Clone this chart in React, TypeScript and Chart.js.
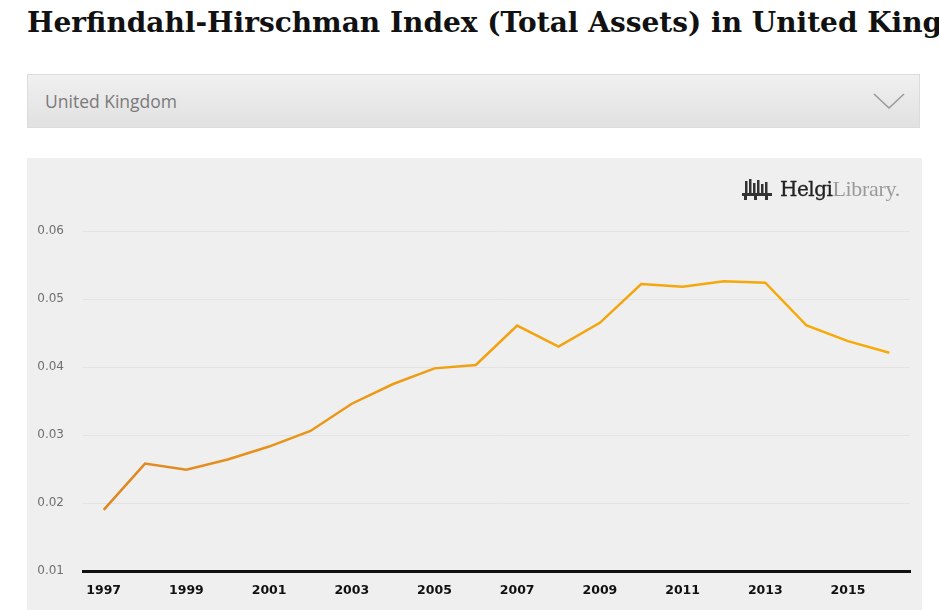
import React, { useEffect, useRef } from "react";
import { Chart, registerables } from "chart.js";

Chart.register(...registerables);

const years: string[] = [
  "1997", "1998", "1999", "2000", "2001", "2002", "2003", "2004", "2005", "2006",
  "2007", "2008", "2009", "2010", "2011", "2012", "2013", "2014", "2015", "2016",
];

const hhiValues: number[] = [
  0.0190, 0.0258, 0.0249, 0.0264, 0.0283, 0.0306, 0.0346, 0.0375, 0.0398, 0.0403,
  0.0461, 0.0430, 0.0465, 0.0522, 0.0518, 0.0526, 0.0524, 0.0461, 0.0438, 0.0421,
];

const yTicks: number[] = [0.01, 0.02, 0.03, 0.04, 0.05, 0.06];

const titleText = "Herfindahl-Hirschman Index (Total Assets) in United Kingdom";
const countryText = "United Kingdom";

function LineChart() {
  const ref = useRef<HTMLCanvasElement | null>(null);
  useEffect(() => {
    if (!ref.current) return;
    const chart = new Chart(ref.current, {
      type: "line",
      data: {
        labels: years,
        datasets: [
          {
            data: hhiValues,
            borderWidth: 2.5,
            pointRadius: 0,
            tension: 0,
            fill: false,
            borderColor: (ctx: any) => {
              const c = ctx.chart;
              const area = c.chartArea;
              if (!area) return "#ef9a12";
              const g = c.ctx.createLinearGradient(area.left, 0, area.right, 0);
              g.addColorStop(0, "#df8423");
              g.addColorStop(0.5, "#f3a20e");
              g.addColorStop(1, "#f8ab05");
              return g;
            },
          },
        ],
      },
      options: {
        animation: false,
        responsive: false,
        maintainAspectRatio: false,
        layout: { padding: { left: 11, right: 12, top: 73, bottom: 0 } },
        plugins: { legend: { display: false }, tooltip: { enabled: false }, title: { display: false } },
        scales: {
          x: {
            offset: true,
            grid: { display: false, drawTicks: false },
            border: { display: true, color: "#111", width: 3 },
            ticks: {
              autoSkip: false,
              maxRotation: 0,
              padding: 12,
              color: "#111",
              font: { family: "DejaVu Sans", size: 12.5, weight: "bold" },
              callback: (_v: any, i: number) => (i % 2 === 0 ? years[i] : ""),
            },
          },
          y: {
            min: yTicks[0],
            max: yTicks[yTicks.length - 1],
            afterBuildTicks: (axis: any) => {
              axis.ticks = yTicks.map((v) => ({ value: v }));
            },
            afterFit: (axis: any) => {
              axis.width = 45;
            },
            grid: { color: "#e3e3e3", lineWidth: 1, drawTicks: false },
            border: { display: false },
            ticks: {
              padding: 19,
              color: "#6f6f6f",
              font: { family: "DejaVu Sans", size: 12 },
              callback: (v: any) => Number(v).toFixed(2),
            },
          },
        },
      },
    });
    return () => chart.destroy();
  }, []);
  return <canvas ref={ref} width={895} height={452} style={{ display: "block", width: 895, height: 452 }} />;
}

function Logo() {
  return (
    <div style={{ position: "absolute", left: 740, top: 174, display: "flex", alignItems: "center", height: 30 }}>
      <svg width="34" height="28" viewBox="0 0 34 28" style={{ marginRight: 6 }}>
        <g fill="#333">
          <rect x="5" y="6" width="2.5" height="13" />
          <rect x="9" y="4" width="2.5" height="15" />
          <rect x="13" y="8" width="2.5" height="11" />
          <rect x="17" y="5" width="2.5" height="14" />
          <rect x="21" y="9" width="2.5" height="10" />
          <rect x="25" y="7" width="2.5" height="12" />
          <rect x="2" y="18" width="30" height="3" />
          <rect x="4" y="21" width="3" height="4" />
          <rect x="14" y="21" width="3" height="4" />
          <rect x="25" y="21" width="3" height="4" />
        </g>
      </svg>
      <span style={{ fontFamily: "DejaVu Serif", fontSize: 20, color: "#222", letterSpacing: -0.5, WebkitTextStroke: "0.3px #222" }}>Helgi</span>
      <span style={{ fontFamily: "Liberation Serif", fontSize: 22, color: "#9a9a9a", letterSpacing: -0.3 }}>Library.</span>
    </div>
  );
}

export default function App() {
  return (
    <div style={{ position: "absolute", left: 0, top: 0, width: 939, height: 610, overflow: "hidden", background: "#fff" }}>
      <div
        style={{
          position: "absolute",
          left: 27,
          top: 3,
          whiteSpace: "nowrap",
          fontFamily: "DejaVu Serif",
          fontWeight: "bold",
          fontSize: 28,
          color: "#111",
          lineHeight: "40px",
        }}
      >
        {titleText}
      </div>
      <div
        style={{
          position: "absolute",
          left: 27,
          top: 74,
          width: 893,
          height: 54,
          boxSizing: "border-box",
          border: "1px solid #dcdcdc",
          background: "linear-gradient(#f0f0f0, #e1e1e1)",
        }}
      >
        <div
          style={{
            position: "absolute",
            left: 17,
            top: 0,
            lineHeight: "52px",
            fontFamily: "Open Sans",
            fontSize: 17.5,
            color: "#7a7a7a",
          }}
        >
          {countryText}
        </div>
        <svg width="34" height="20" style={{ position: "absolute", left: 845, top: 17 }}>
          <polyline points="1,2 16,16 31,2" fill="none" stroke="#9a9a9a" strokeWidth="1.6" />
        </svg>
      </div>
      <div style={{ position: "absolute", left: 27, top: 158, width: 895, height: 470, background: "#efefef" }}>
        <LineChart />
      </div>
      <Logo />
    </div>
  );
}
